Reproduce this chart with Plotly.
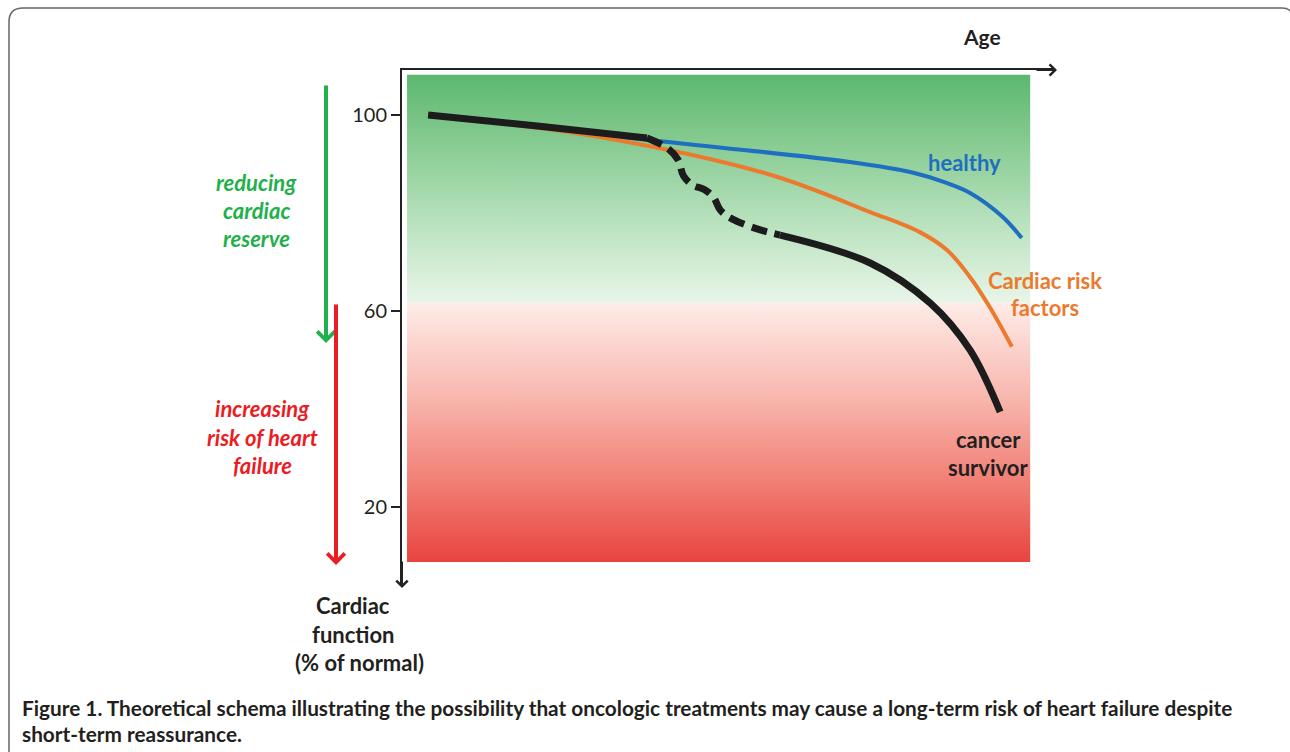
import plotly.graph_objects as go

# ---------------- data (x: age, arbitrary units; y: cardiac function, % of normal)
healthy_x = [4.0, 36.4, 68.6, 78.3, 83.5, 87.0, 92.0, 94.9]
healthy_y = [100.0, 95.1, 90.4, 88.2, 86.1, 84.1, 79.2, 74.9]

risk_x = [4.0, 30.3, 56.4, 71.7, 79.3, 83.5, 87.0, 90.0, 93.4]
risk_y = [100.0, 95.5, 87.8, 80.2, 76.1, 72.4, 66.9, 60.8, 52.7]

cancer_early_x = [4.0, 21.1, 37.5]
cancer_early_y = [100.0, 97.7, 95.3]
cancer_treat_x = [37.5, 40.7, 42.3, 43.1, 44.5, 46.3, 47.7, 48.8, 50.7, 54.5, 57.9]
cancer_treat_y = [95.3, 93.2, 90.8, 87.6, 85.7, 84.8, 83.2, 80.5, 78.7, 76.7, 75.5]
cancer_late_x = [57.9, 71.7, 80.9, 87.0, 91.6]
cancer_late_y = [75.5, 69.8, 61.6, 52.0, 39.4]

y_ticks = [20, 60, 100]
zone_x = [0.77, 96.2]
zone_green = [61.7, 108.2]   # reducing cardiac reserve
zone_red = [8.8, 61.7]       # increasing risk of heart failure

# ---------------- layout geometry (pixels)
W, H = 1290, 752
L, R, T, B = 402, 1055, 70, 585
X_RANGE = [0, 100]
Y_RANGE = [(605 - B) / 4.9, (605 - T) / 4.9]


def PX(px):
    return (px - L) / (R - L)


def PY(py):
    return (B - py) / (B - T)


BLUE = "#1f6fc0"
ORANGE = "#ec7a2e"
BLACK = "#1c1c1c"
GREEN_T = "#22b04b"
RED_T = "#ec1c24"
DARK = "#231f20"
FONT = "Lato"

fig = go.Figure()

# background zones
fig.add_trace(go.Scatter(
    x=[zone_x[0], zone_x[1], zone_x[1], zone_x[0], zone_x[0]],
    y=[zone_green[0], zone_green[0], zone_green[1], zone_green[1], zone_green[0]],
    mode="lines", line=dict(width=0), fill="toself",
    fillgradient=dict(type="vertical", colorscale=[
        [0.0, "rgb(232,245,232)"], [0.35, "rgb(185,226,190)"],
        [0.7, "rgb(135,203,146)"], [1.0, "rgb(92,184,110)"]]),
    hoverinfo="skip", showlegend=False))
fig.add_trace(go.Scatter(
    x=[zone_x[0], zone_x[1], zone_x[1], zone_x[0], zone_x[0]],
    y=[zone_red[0], zone_red[0], zone_red[1], zone_red[1], zone_red[0]],
    mode="lines", line=dict(width=0), fill="toself",
    fillgradient=dict(type="vertical", colorscale=[
        [0.0, "rgb(232,68,62)"], [0.3, "rgb(241,125,115)"],
        [0.65, "rgb(248,185,176)"], [1.0, "rgb(254,236,232)"]]),
    hoverinfo="skip", showlegend=False))

# curves
fig.add_trace(go.Scatter(x=healthy_x, y=healthy_y, mode="lines",
                         line=dict(color=BLUE, width=4, shape="spline"),
                         showlegend=False))
fig.add_trace(go.Scatter(x=risk_x, y=risk_y, mode="lines",
                         line=dict(color=ORANGE, width=4, shape="spline"),
                         showlegend=False))
fig.add_trace(go.Scatter(x=cancer_early_x, y=cancer_early_y, mode="lines",
                         line=dict(color=BLACK, width=7, shape="spline"),
                         showlegend=False))
fig.add_trace(go.Scatter(x=cancer_treat_x, y=cancer_treat_y, mode="lines",
                         line=dict(color=BLACK, width=7, shape="spline", dash="16px,8px"),
                         showlegend=False))
fig.add_trace(go.Scatter(x=cancer_late_x, y=cancer_late_y, mode="lines",
                         line=dict(color=BLACK, width=7, shape="spline"),
                         showlegend=False))

ann = []


def text(px, py, s, color=DARK, size=21, bold=True, italic=False, xanchor="center"):
    if bold:
        s = "<b>" + s + "</b>"
    if italic:
        s = "<i>" + s + "</i>"
    ann.append(dict(x=PX(px), y=PY(py), xref="paper", yref="paper", text=s,
                    showarrow=False, xanchor=xanchor, yanchor="middle",
                    font=dict(family=FONT, size=size, color=color)))


def arrow(x0, y0, x1, y1, color, width, size):
    ann.append(dict(x=PX(x1), y=PY(y1), xref="paper", yref="paper",
                    ax=x0 - x1, ay=y0 - y1, axref="pixel", ayref="pixel",
                    text="", showarrow=True, arrowhead=4, arrowwidth=width,
                    arrowsize=size, arrowcolor=color, standoff=0, startstandoff=0))


# axis arrowheads
arrow(1035, T, 1057, T, "#222222", 2, 1.1)
arrow(L, 560, L, 588, "#222222", 2, 1.1)

# side arrows
arrow(326, 84, 326, 343, GREEN_T, 4, 0.85)
arrow(336, 303, 336, 565, RED_T, 4, 0.85)

text(982, 37, "Age")
text(964, 162, "healthy", color=BLUE, size=22)
text(1045, 280, "Cardiac risk", color=ORANGE, size=22)
text(1045, 307, "factors", color=ORANGE, size=22)
text(988, 439, "cancer", size=22)
text(988, 467, "survivor", size=22)

text(256, 182, "reducing", color=GREEN_T, italic=True, size=22)
text(256, 210, "cardiac", color=GREEN_T, italic=True, size=22)
text(256, 238, "reserve", color=GREEN_T, italic=True, size=22)

text(262, 408, "increasing", color=RED_T, italic=True, size=22)
text(262, 437, "risk of heart", color=RED_T, italic=True, size=22)
text(262, 465, "failure", color=RED_T, italic=True, size=22)

text(353, 605, "Cardiac", size=22)
text(353, 634, "function", size=22)
text(359, 662, "(% of normal)", size=22)

text(20, 707, "Figure 1. Theoretical schema illustrating the possibility that oncologic treatments may cause a long-term risk of heart failure despite",
     size=20.8, xanchor="left")
text(20, 733, "short-term reassurance.", size=20.8, xanchor="left")

# outer frame
frame = (f"M {PX(9)},{PY(770)} L {PX(9)},{PY(22)} "
         f"Q {PX(9)},{PY(8)} {PX(23)},{PY(8)} "
         f"L {PX(1282)},{PY(8)} Q {PX(1290)},{PY(8)} {PX(1292)},{PY(14)}")

fig.update_layout(
    width=W, height=H, autosize=False,
    margin=dict(l=L, r=W - R, t=T, b=H - B, pad=0),
    paper_bgcolor="white", plot_bgcolor="white",
    showlegend=False,
    annotations=ann,
    shapes=[dict(type="path", path=frame, xref="paper", yref="paper",
                 line=dict(color="#666666", width=1.5))],
    xaxis=dict(range=X_RANGE, side="top", showline=True, linecolor="#222222",
               linewidth=2, showgrid=False, zeroline=False, showticklabels=False,
               ticks=""),
    yaxis=dict(range=Y_RANGE, showline=True, linecolor="#222222", linewidth=2,
               showgrid=False, zeroline=False, tickvals=y_ticks,
               ticks="outside", ticklen=9, tickwidth=1.5, tickcolor="#222222",
               tickfont=dict(family=FONT, size=20, color=DARK)),
)

fig.write_html("out.html", config={"displayModeBar": False},
               post_script="document.body.style.margin='0';document.body.style.overflow='hidden';")
